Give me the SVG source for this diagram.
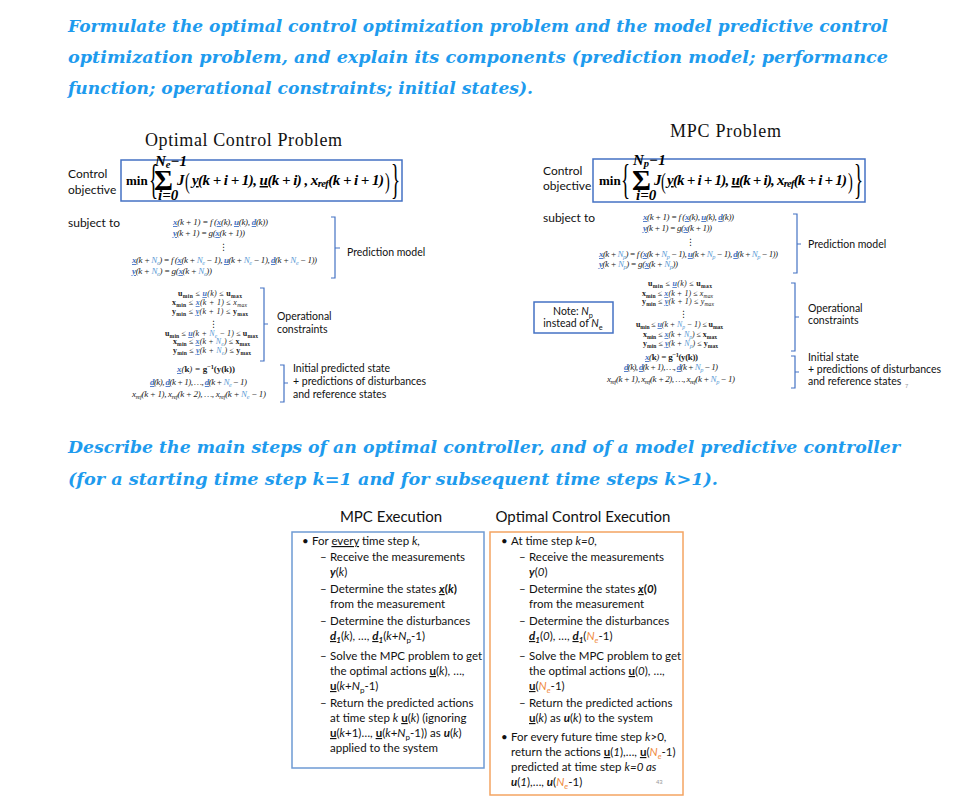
<svg xmlns="http://www.w3.org/2000/svg" width="960" height="803" viewBox="0 0 960 803">
<style>
.h{font-family:"DejaVu Serif","Liberation Serif",serif;font-weight:bold;font-style:italic;font-size:17px;fill:#1E9BEE}
.ttl{font-family:"Liberation Serif",serif;font-size:18px;fill:#111}
.lab{font-family:Lato,"Liberation Sans",sans-serif;font-size:12px;fill:#111}
.sl{font-family:Lato,"Liberation Sans",sans-serif;font-size:10.5px;fill:#111}
.m{font-family:"Liberation Serif","DejaVu Serif",serif;font-style:italic;font-size:9px;fill:#222}
.c{font-size:8px}
.v{fill:#4472C4;font-weight:bold;text-decoration:underline}
.n{fill:#5B9BD5}
.s{font-size:70%;baseline-shift:-1.5px}
.s2{font-size:70%;baseline-shift:-2.5px}
.sup{font-size:70%;baseline-shift:3px}
.b{font-weight:bold;font-style:normal}
.dots{font-family:"DejaVu Sans",sans-serif;font-size:9px;fill:#222}
.obj{font-family:"Liberation Serif",serif;font-weight:bold;font-style:italic;font-size:15px;fill:#000}
.ul{text-decoration:underline}
.big{font-family:"Liberation Serif",serif;fill:#000}
.br{fill:none;stroke:#4472C4;stroke-width:1.2}
.box{fill:none;stroke:#4472C4;stroke-width:1.5}
.ex{font-family:Lato,"Liberation Sans",sans-serif;font-size:11.5px;fill:#111}
.et{font-family:Lato,"Liberation Sans",sans-serif;font-size:15px;fill:#111}
.i{font-style:italic}
.eb{font-weight:bold}
.o{fill:#F08A3C;font-style:italic}
.pg{font-family:"Liberation Sans",sans-serif;font-size:6px;fill:#999}
</style>

<g id="headings">
<text class="h" x="68" y="32" textLength="820" lengthAdjust="spacingAndGlyphs">Formulate the optimal control optimization problem and the model predictive control</text>
<text class="h" x="68" y="63" textLength="820" lengthAdjust="spacingAndGlyphs">optimization problem, and explain its components (prediction model; performance</text>
<text class="h" x="68" y="94" textLength="465" lengthAdjust="spacingAndGlyphs">function; operational constraints; initial states).</text>
<text class="h" x="68" y="453" textLength="832" lengthAdjust="spacingAndGlyphs">Describe the main steps of an optimal controller, and of a model predictive controller</text>
<text class="h" x="68" y="485" textLength="650" lengthAdjust="spacingAndGlyphs">(for a starting time step k=1 and for subsequent time steps k&gt;1).</text>
</g>

<g id="ocp">
<text class="ttl" x="145" y="146" textLength="197">Optimal Control Problem</text>
<text class="lab" x="68" y="178">Control</text>
<text class="lab" x="68" y="194">objective</text>
<g id="ocp-objective">
<rect class="box" x="121" y="160" width="281" height="41"/>
<text class="big" x="126" y="185" font-size="13" font-weight="bold">min</text>
<text class="big" transform="translate(149,193) scale(0.45,1)" font-size="42">{</text>
<text class="big" x="154" y="190" font-size="29" font-weight="bold">Σ</text>
<text class="obj" x="155" y="166" font-size="9">N<tspan class="s">e</tspan>−1</text>
<text class="obj" x="158" y="200" font-size="9">i=0</text>
<text class="obj" x="177" y="185">J</text>
<text class="big" transform="translate(185,189) scale(0.6,1)" font-size="24">(</text>
<text class="obj" x="192" y="185" textLength="192"><tspan class="ul">y</tspan>(k + i + 1), <tspan class="ul">u</tspan>(k + i) , x<tspan class="s">ref</tspan>(k + i + 1)</text>
<text class="big" transform="translate(385,189) scale(0.6,1)" font-size="24">)</text>
<text class="big" transform="translate(391,193) scale(0.45,1)" font-size="42">}</text>
</g>
<text class="lab" x="68" y="227">subject to</text>
<g id="ocp-prediction">
<text class="m" x="173" y="225" textLength="95"><tspan class="v">x</tspan>(k + 1) = f (<tspan class="v">x</tspan>(k), <tspan class="v">u</tspan>(k), <tspan class="v">d</tspan>(k))</text>
<text class="m" x="173" y="236" textLength="72"><tspan class="v">y</tspan>(k + 1) = g(<tspan class="v">x</tspan>(k + 1))</text>
<text class="dots" x="219" y="250">⋮</text>
<text class="m" x="132" y="263" textLength="185"><tspan class="v">x</tspan>(k + <tspan class="n">N<tspan class="s">e</tspan></tspan>) = f (<tspan class="v">x</tspan>(k + <tspan class="n">N<tspan class="s">e</tspan></tspan> − 1), <tspan class="v">u</tspan>(k + <tspan class="n">N<tspan class="s">e</tspan></tspan> − 1), <tspan class="v">d</tspan>(k + <tspan class="n">N<tspan class="s">e</tspan></tspan> − 1))</text>
<text class="m" x="132" y="274" textLength="80"><tspan class="v">y</tspan>(k + <tspan class="n">N<tspan class="s">e</tspan></tspan>) = g(<tspan class="v">x</tspan>(k + <tspan class="n">N<tspan class="s">e</tspan></tspan>))</text>
<path class="br" d="M331,217 H335 V278 H331 M335,248 H340"/>
<text class="sl" x="347" y="256">Prediction model</text>
</g>
<g id="ocp-constraints">
<text class="m c" x="178" y="296" textLength="64"><tspan class="b">u<tspan class="s">min</tspan></tspan> ≤ <tspan class="v">u</tspan>(k) ≤ <tspan class="b">u<tspan class="s">max</tspan></tspan></text>
<text class="m c" x="172" y="305" textLength="75"><tspan class="b">x<tspan class="s">min</tspan></tspan> ≤ <tspan class="v">x</tspan>(k + 1) ≤ x<tspan class="s">max</tspan></text>
<text class="m c" x="172" y="314" textLength="76"><tspan class="b">y<tspan class="s">min</tspan></tspan> ≤ <tspan class="v">y</tspan>(k + 1) ≤ <tspan class="b">y<tspan class="s">max</tspan></tspan></text>
<text class="dots" x="209" y="327">⋮</text>
<text class="m c" x="165" y="336" textLength="93"><tspan class="b">u<tspan class="s">min</tspan></tspan> ≤ <tspan class="v">u</tspan>(k + <tspan class="n">N<tspan class="s">e</tspan></tspan> − 1) ≤ <tspan class="b">u<tspan class="s">max</tspan></tspan></text>
<text class="m c" x="173" y="344" textLength="77"><tspan class="b">x<tspan class="s">min</tspan></tspan> ≤ <tspan class="v">x</tspan>(k + <tspan class="n">N<tspan class="s">e</tspan></tspan>) ≤ <tspan class="b">x<tspan class="s">max</tspan></tspan></text>
<text class="m c" x="173" y="353" textLength="78"><tspan class="b">y<tspan class="s">min</tspan></tspan> ≤ <tspan class="v">y</tspan>(k + <tspan class="n">N<tspan class="s">e</tspan></tspan>) ≤ <tspan class="b">y<tspan class="s">max</tspan></tspan></text>
<path class="br" d="M260,288 H264 V361 H260 M264,324 H268"/>
<text class="sl" x="277" y="320">Operational</text>
<text class="sl" x="277" y="333">constraints</text>
</g>
<g id="ocp-initial">
<text class="m" x="177" y="372" textLength="58"><tspan class="v">x</tspan>(<tspan class="b">k</tspan>) = <tspan class="b">g<tspan class="sup">−1</tspan>(y(k))</tspan></text>
<text class="m" x="150" y="385" textLength="97"><tspan class="v">d</tspan>(k), <tspan class="v">d</tspan>(k + 1), …, <tspan class="v">d</tspan>(k + <tspan class="n">N<tspan class="s">e</tspan></tspan> − 1)</text>
<text class="m" x="132" y="397" textLength="134">x<tspan class="s">ref</tspan>(k + 1), x<tspan class="s">ref</tspan>(k + 2), …, x<tspan class="s">ref</tspan>(k + <tspan class="n">N<tspan class="s">e</tspan></tspan> − 1)</text>
<path class="br" d="M280,365 H284 V402 H280 M284,383 H288"/>
<text class="sl" x="293" y="372">Initial predicted state</text>
<text class="sl" x="293" y="385">+ predictions of disturbances</text>
<text class="sl" x="293" y="398">and reference states</text>
</g>
</g>

<g id="mpc">
<text class="ttl" x="670" y="137" textLength="111">MPC Problem</text>
<text class="lab" x="543" y="175">Control</text>
<text class="lab" x="543" y="190">objective</text>
<g id="mpc-objective">
<rect class="box" x="593" y="159" width="272" height="43"/>
<text class="big" x="599" y="185" font-size="13" font-weight="bold">min</text>
<text class="big" transform="translate(621,193) scale(0.45,1)" font-size="42">{</text>
<text class="big" x="632" y="190" font-size="29" font-weight="bold">Σ</text>
<text class="obj" x="633" y="165" font-size="9">N<tspan class="s">p</tspan>−1</text>
<text class="obj" x="636" y="200" font-size="9">i=0</text>
<text class="obj" x="654" y="185">J</text>
<text class="big" transform="translate(661,189) scale(0.6,1)" font-size="24">(</text>
<text class="obj" x="667" y="185" textLength="180"><tspan class="ul">y</tspan>(k + i + 1), <tspan class="ul">u</tspan>(k + i), x<tspan class="s">ref</tspan>(k + i + 1)</text>
<text class="big" transform="translate(848,189) scale(0.6,1)" font-size="24">)</text>
<text class="big" transform="translate(854,193) scale(0.45,1)" font-size="42">}</text>
</g>
<text class="lab" x="543" y="222">subject to</text>
<g id="mpc-prediction">
<text class="m" x="643" y="220" textLength="91"><tspan class="v">x</tspan>(k + 1) = f (<tspan class="v">x</tspan>(k), <tspan class="v">u</tspan>(k), <tspan class="v">d</tspan>(k))</text>
<text class="m" x="643" y="231" textLength="69"><tspan class="v">y</tspan>(k + 1) = g(<tspan class="v">x</tspan>(k + 1))</text>
<text class="dots" x="686" y="245">⋮</text>
<text class="m" x="599" y="257" textLength="179"><tspan class="v">x</tspan>(k + <tspan class="n">N<tspan class="s">p</tspan></tspan>) = f (<tspan class="v">x</tspan>(k + <tspan class="n">N<tspan class="s">p</tspan></tspan> − 1), <tspan class="v">u</tspan>(k + <tspan class="n">N<tspan class="s">p</tspan></tspan> − 1), <tspan class="v">d</tspan>(k + <tspan class="n">N<tspan class="s">p</tspan></tspan> − 1))</text>
<text class="m" x="599" y="267" textLength="79"><tspan class="v">y</tspan>(k + <tspan class="n">N<tspan class="s">p</tspan></tspan>) = g(<tspan class="v">x</tspan>(k + <tspan class="n">N<tspan class="s">p</tspan></tspan>))</text>
<path class="br" d="M793,214 H797 V273 H793 M797,244 H801"/>
<text class="sl" x="808" y="248">Prediction model</text>
</g>
<g id="note">
<rect class="box" x="534" y="302" width="79" height="31"/>
<text class="sl" x="573" y="315" text-anchor="middle">Note: <tspan class="i">N</tspan><tspan class="s2">p</tspan></text>
<text class="sl" x="573" y="327" text-anchor="middle">instead of <tspan class="i">N</tspan><tspan class="s2">e</tspan></text>
</g>
<g id="mpc-constraints">
<text class="m c" x="648" y="286" textLength="64"><tspan class="b">u<tspan class="s">min</tspan></tspan> ≤ <tspan class="v">u</tspan>(k) ≤ <tspan class="b">u<tspan class="s">max</tspan></tspan></text>
<text class="m c" x="642" y="296" textLength="71"><tspan class="b">x<tspan class="s">min</tspan></tspan> ≤ <tspan class="v">x</tspan>(k + 1) ≤ x<tspan class="s">max</tspan></text>
<text class="m c" x="642" y="304" textLength="72"><tspan class="b">y<tspan class="s">min</tspan></tspan> ≤ <tspan class="v">y</tspan>(k + 1) ≤ y<tspan class="s">max</tspan></text>
<text class="dots" x="679" y="317">⋮</text>
<text class="m c" x="636" y="327" textLength="87"><tspan class="b">u<tspan class="s">min</tspan></tspan> ≤ <tspan class="v">u</tspan>(k + <tspan class="n">N<tspan class="s">p</tspan></tspan> − 1) ≤ <tspan class="b">u<tspan class="s">max</tspan></tspan></text>
<text class="m c" x="643" y="337" textLength="74"><tspan class="b">x<tspan class="s">min</tspan></tspan> ≤ <tspan class="v">x</tspan>(k + <tspan class="n">N<tspan class="s">p</tspan></tspan>) ≤ <tspan class="b">x<tspan class="s">max</tspan></tspan></text>
<text class="m c" x="643" y="346" textLength="75"><tspan class="b">y<tspan class="s">min</tspan></tspan> ≤ <tspan class="v">y</tspan>(k + <tspan class="n">N<tspan class="s">p</tspan></tspan>) ≤ <tspan class="b">y<tspan class="s">max</tspan></tspan></text>
<path class="br" d="M791,283 H795 V351 H791 M795,317 H799"/>
<text class="sl" x="808" y="312">Operational</text>
<text class="sl" x="808" y="324">constraints</text>
</g>
<g id="mpc-initial">
<text class="m" x="645" y="360" textLength="53"><tspan class="v">x</tspan>(<tspan class="b">k</tspan>) = <tspan class="b">g<tspan class="sup">−1</tspan>(y(k))</tspan></text>
<text class="m" x="624" y="370" textLength="94"><tspan class="v">d</tspan>(k), <tspan class="v">d</tspan>(k + 1), …, <tspan class="v">d</tspan>(k + <tspan class="n">N<tspan class="s">p</tspan></tspan> − 1)</text>
<text class="m" x="607" y="382" textLength="128">x<tspan class="s">ref</tspan>(k + 1), x<tspan class="s">ref</tspan>(k + 2), …, x<tspan class="s">ref</tspan>(k + <tspan class="n">N<tspan class="s">p</tspan></tspan> − 1)</text>
<path class="br" d="M791,356 H795 V388 H791 M795,372 H799"/>
<text class="sl" x="808" y="361">Initial state</text>
<text class="sl" x="808" y="373">+ predictions of disturbances</text>
<text class="sl" x="808" y="385">and reference states</text>
<text class="pg" x="905" y="388">7</text>
</g>
</g>

<g id="mpc-execution">
<text class="et" x="391" y="522" text-anchor="middle">MPC Execution</text>
<rect x="292" y="532" width="192" height="236" fill="none" stroke="#6E9AD4" stroke-width="1.5"/>
<g class="ex">
<text x="302" y="545">•</text>
<text x="312" y="545">For <tspan class="ul">every</tspan> time step <tspan class="i">k,</tspan></text>
<text x="320" y="561">–</text><text x="330" y="561">Receive the measurements</text>
<text x="330" y="576"><tspan class="eb i">y</tspan>(<tspan class="i">k</tspan>)</text>
<text x="320" y="593">–</text><text x="330" y="593">Determine the states <tspan class="eb"><tspan class="ul i">x</tspan>(<tspan class="i">k</tspan>)</tspan></text>
<text x="330" y="608">from the measurement</text>
<text x="320" y="625">–</text><text x="330" y="625">Determine the disturbances</text>
<text x="330" y="640"><tspan class="eb i"><tspan class="ul">d</tspan><tspan class="s2">1</tspan></tspan>(<tspan class="i">k</tspan>), …, <tspan class="eb i"><tspan class="ul">d</tspan><tspan class="s2">1</tspan></tspan>(<tspan class="i">k</tspan>+<tspan class="i">N</tspan><tspan class="s2">p</tspan>-1)</text>
<text x="320" y="660">–</text><text x="330" y="660">Solve the MPC problem to get</text>
<text x="330" y="675">the optimal actions <tspan class="eb ul">u</tspan>(<tspan class="i">k</tspan>), …,</text>
<text x="330" y="690"><tspan class="eb ul">u</tspan>(<tspan class="i">k</tspan>+<tspan class="i">N</tspan><tspan class="s2">p</tspan>-1)</text>
<text x="320" y="707">–</text><text x="330" y="707">Return the predicted actions</text>
<text x="330" y="722">at time step <tspan class="i">k</tspan> <tspan class="eb ul">u</tspan>(<tspan class="i">k</tspan>) (ignoring</text>
<text x="330" y="737"><tspan class="eb ul">u</tspan>(<tspan class="i">k</tspan>+1)…, <tspan class="eb ul">u</tspan>(<tspan class="i">k</tspan>+<tspan class="i">N</tspan><tspan class="s2">p</tspan>-1)) as <tspan class="eb i">u</tspan>(<tspan class="i">k</tspan>)</text>
<text x="330" y="752">applied to the system</text>
</g>
</g>

<g id="oc-execution">
<text class="et" x="583" y="522" text-anchor="middle">Optimal Control Execution</text>
<rect x="490" y="532" width="193" height="263" fill="none" stroke="#F4A462" stroke-width="1.5"/>
<g class="ex">
<text x="501" y="545">•</text>
<text x="511" y="545">At time step <tspan class="i">k=0,</tspan></text>
<text x="519" y="561">–</text><text x="529" y="561">Receive the measurements</text>
<text x="529" y="576"><tspan class="eb i">y</tspan>(<tspan class="i">0</tspan>)</text>
<text x="519" y="593">–</text><text x="529" y="593">Determine the states <tspan class="eb"><tspan class="ul i">x</tspan>(<tspan class="i">0</tspan>)</tspan></text>
<text x="529" y="608">from the measurement</text>
<text x="519" y="625">–</text><text x="529" y="625">Determine the disturbances</text>
<text x="529" y="640"><tspan class="eb i"><tspan class="ul">d</tspan><tspan class="s2">1</tspan></tspan>(<tspan class="i">0</tspan>), …, <tspan class="eb i"><tspan class="ul">d</tspan><tspan class="s2">1</tspan></tspan>(<tspan class="o">N</tspan><tspan class="o s2">e</tspan>-1)</text>
<text x="519" y="660">–</text><text x="529" y="660">Solve the MPC problem to get</text>
<text x="529" y="675">the optimal actions <tspan class="eb ul">u</tspan>(<tspan class="i">0</tspan>), …,</text>
<text x="529" y="690"><tspan class="eb ul">u</tspan>(<tspan class="o">N</tspan><tspan class="o s2">e</tspan>-1)</text>
<text x="519" y="707">–</text><text x="529" y="707">Return the predicted actions</text>
<text x="529" y="722"><tspan class="eb ul">u</tspan>(<tspan class="i">k</tspan>) as <tspan class="eb i">u</tspan>(<tspan class="i">k</tspan>) to the system</text>
<text x="501" y="741">•</text>
<text x="511" y="741">For every future time step <tspan class="i">k</tspan>&gt;0,</text>
<text x="511" y="756">return the actions <tspan class="eb ul">u</tspan>(<tspan class="i">1</tspan>),…, <tspan class="eb ul">u</tspan>(<tspan class="o">N</tspan><tspan class="o s2">e</tspan>-1)</text>
<text x="511" y="771">predicted at time step <tspan class="i">k=0 as</tspan></text>
<text x="511" y="786"><tspan class="eb i">u</tspan>(<tspan class="i">1</tspan>),…, <tspan class="eb i">u</tspan>(<tspan class="o">N</tspan><tspan class="o s2">e</tspan>-1)</text>
</g>
<text class="pg" x="656" y="784">43</text>
</g>
</svg>
